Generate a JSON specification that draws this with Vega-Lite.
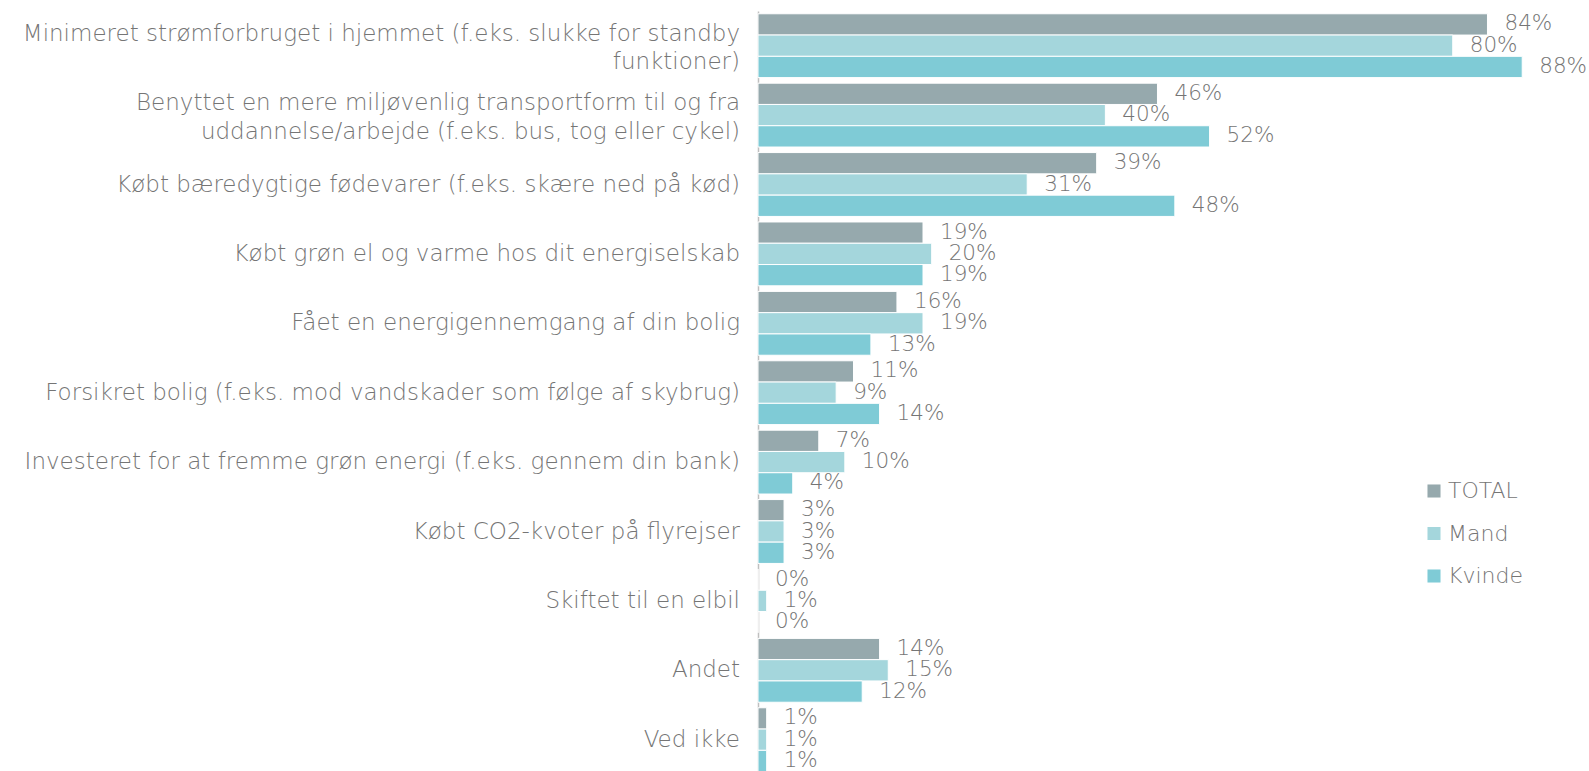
{
  "$schema": "https://vega.github.io/schema/vega-lite/v6.json",
  "autosize": {"type": "none"},
  "padding": {"left": 758, "right": 6, "top": 11, "bottom": 0},
  "width": 825,
  "height": 760,
  "background": "white",
  "config": {"view": {"stroke": null}, "font": "DejaVu Sans"},
  "data": {"values": [
    {"cat": "Minimeret strømforbruget i hjemmet (f.eks. slukke for standby|funktioner)", "series": "TOTAL", "value": 0.84},
    {"cat": "Minimeret strømforbruget i hjemmet (f.eks. slukke for standby|funktioner)", "series": "Mand", "value": 0.80},
    {"cat": "Minimeret strømforbruget i hjemmet (f.eks. slukke for standby|funktioner)", "series": "Kvinde", "value": 0.88},
    {"cat": "Benyttet en mere miljøvenlig transportform til og fra|uddannelse/arbejde (f.eks. bus, tog eller cykel)", "series": "TOTAL", "value": 0.46},
    {"cat": "Benyttet en mere miljøvenlig transportform til og fra|uddannelse/arbejde (f.eks. bus, tog eller cykel)", "series": "Mand", "value": 0.40},
    {"cat": "Benyttet en mere miljøvenlig transportform til og fra|uddannelse/arbejde (f.eks. bus, tog eller cykel)", "series": "Kvinde", "value": 0.52},
    {"cat": "Købt bæredygtige fødevarer (f.eks. skære ned på kød)", "series": "TOTAL", "value": 0.39},
    {"cat": "Købt bæredygtige fødevarer (f.eks. skære ned på kød)", "series": "Mand", "value": 0.31},
    {"cat": "Købt bæredygtige fødevarer (f.eks. skære ned på kød)", "series": "Kvinde", "value": 0.48},
    {"cat": "Købt grøn el og varme hos dit energiselskab", "series": "TOTAL", "value": 0.19},
    {"cat": "Købt grøn el og varme hos dit energiselskab", "series": "Mand", "value": 0.20},
    {"cat": "Købt grøn el og varme hos dit energiselskab", "series": "Kvinde", "value": 0.19},
    {"cat": "Fået en energigennemgang af din bolig", "series": "TOTAL", "value": 0.16},
    {"cat": "Fået en energigennemgang af din bolig", "series": "Mand", "value": 0.19},
    {"cat": "Fået en energigennemgang af din bolig", "series": "Kvinde", "value": 0.13},
    {"cat": "Forsikret bolig (f.eks. mod vandskader som følge af skybrug)", "series": "TOTAL", "value": 0.11},
    {"cat": "Forsikret bolig (f.eks. mod vandskader som følge af skybrug)", "series": "Mand", "value": 0.09},
    {"cat": "Forsikret bolig (f.eks. mod vandskader som følge af skybrug)", "series": "Kvinde", "value": 0.14},
    {"cat": "Investeret for at fremme grøn energi (f.eks. gennem din bank)", "series": "TOTAL", "value": 0.07},
    {"cat": "Investeret for at fremme grøn energi (f.eks. gennem din bank)", "series": "Mand", "value": 0.10},
    {"cat": "Investeret for at fremme grøn energi (f.eks. gennem din bank)", "series": "Kvinde", "value": 0.04},
    {"cat": "Købt CO2-kvoter på flyrejser", "series": "TOTAL", "value": 0.03},
    {"cat": "Købt CO2-kvoter på flyrejser", "series": "Mand", "value": 0.03},
    {"cat": "Købt CO2-kvoter på flyrejser", "series": "Kvinde", "value": 0.03},
    {"cat": "Skiftet til en elbil", "series": "TOTAL", "value": 0.00},
    {"cat": "Skiftet til en elbil", "series": "Mand", "value": 0.01},
    {"cat": "Skiftet til en elbil", "series": "Kvinde", "value": 0.00},
    {"cat": "Andet", "series": "TOTAL", "value": 0.14},
    {"cat": "Andet", "series": "Mand", "value": 0.15},
    {"cat": "Andet", "series": "Kvinde", "value": 0.12},
    {"cat": "Ved ikke", "series": "TOTAL", "value": 0.01},
    {"cat": "Ved ikke", "series": "Mand", "value": 0.01},
    {"cat": "Ved ikke", "series": "Kvinde", "value": 0.01}
  ]},
  "encoding": {
    "y": {"field": "cat", "type": "nominal", "sort": null,
      "scale": {"range": [0, 763.4], "paddingInner": 0.08, "paddingOuter": 0.04},
      "axis": {"title": null, "labels": false, "ticks": false, "domainColor": "#bfbfbf", "domainWidth": 1.5}},
    "x": {"field": "value", "type": "quantitative", "scale": {"domain": [0, 0.95], "nice": false}, "axis": null}
  },
  "layer": [
    {
      "mark": {"type": "bar", "stroke": "white", "strokeWidth": 1},
      "encoding": {
        "yOffset": {"field": "series", "type": "nominal", "sort": ["TOTAL", "Mand", "Kvinde"], "scale": {"paddingInner": 0, "paddingOuter": 0}},
        "color": {"field": "series", "type": "nominal", "sort": ["TOTAL", "Mand", "Kvinde"],
          "scale": {"domain": ["TOTAL", "Mand", "Kvinde"], "range": ["#96a9ad", "#a4d6dc", "#7fcbd6"]},
          "legend": {"title": null, "orient": "none", "legendX": 665, "legendY": 469, "symbolType": "square", "symbolSize": 170, "symbolStrokeWidth": 0, "labelFontSize": 22, "labelColor": "#757575", "labelFont": "DejaVu Sans", "labelFontWeight": 300, "rowPadding": 20.5, "labelOffset": 3, "padding": 0}}
      }
    },
    {
      "mark": {"type": "text", "align": "left", "baseline": "middle", "dx": 17, "fontSize": 21.5, "fontWeight": 300, "color": "#757575"},
      "encoding": {
        "yOffset": {"field": "series", "type": "nominal", "sort": ["TOTAL", "Mand", "Kvinde"]},
        "text": {"field": "value", "type": "quantitative", "format": ".0%"}
      }
    },
    {
      "transform": [{"filter": "datum.series === 'TOTAL' && indexof(datum.cat, '|') < 0"}],
      "mark": {"type": "text", "align": "right", "baseline": "middle", "dx": -18, "fontSize": 23, "fontWeight": 300, "color": "#757575", "lineBreak": "|", "lineHeight": 28},
      "encoding": {
        "x": {"datum": 0},
        "text": {"field": "cat"}
      }
    },
    {
      "transform": [{"filter": "datum.series === 'TOTAL' && indexof(datum.cat, '|') >= 0"}],
      "mark": {"type": "text", "align": "right", "baseline": "middle", "dx": -18, "dy": -12, "fontSize": 23, "fontWeight": 300, "color": "#757575", "lineBreak": "|", "lineHeight": 28.5},
      "encoding": {
        "x": {"datum": 0},
        "text": {"field": "cat"}
      }
    }
  ]
}
